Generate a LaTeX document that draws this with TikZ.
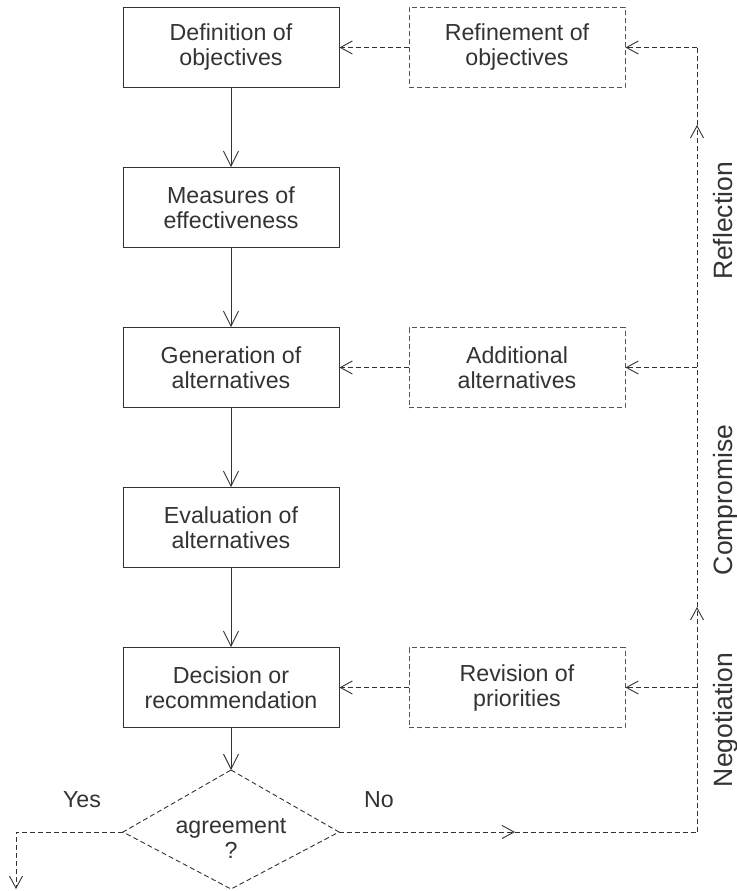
\documentclass[tikz,border=0pt]{standalone}
\usepackage{fontspec}
\setmainfont{Liberation Sans}
\usetikzlibrary{arrows.meta}
\definecolor{ink}{HTML}{333333}
\definecolor{dashink}{HTML}{555555}
\begin{document}
\begin{tikzpicture}[x=1pt,y=-1pt,
  txt/.style={font=\fontsize{23.2}{25}\selectfont, text=ink, align=center},
  mainbox/.style={txt, draw=ink, line width=0.9pt, minimum width=216pt, minimum height=80pt, inner sep=0pt},
  sidebox/.style={mainbox, draw=dashink, dash pattern=on 5pt off 3pt},
  solidarr/.style={draw=ink, line width=0.9pt, -{Straight Barb[length=15pt,width=15pt]}},
  dline/.style={draw=ink, line width=0.9pt, dash pattern=on 5pt off 3pt},
  darr/.style={dline, -{Straight Barb[length=12pt,width=13pt]}},
  sidelabel/.style={font=\fontsize{26.5}{28}\selectfont, text=ink, rotate=90, anchor=base, inner sep=0pt}
]
\useasboundingbox (0,0) rectangle (736,891);

\node[mainbox] (b1) at (231,47.5) {Definition of\\objectives};
\node[mainbox] (b2) at (231,207.5) {Measures of\\effectiveness};
\node[mainbox] (b3) at (231,367.5) {Generation of\\alternatives};
\node[mainbox] (b4) at (231,527.5) {Evaluation of\\alternatives};
\node[mainbox] (b5) at (231,687.5) {Decision or\\recommendation};

\node[sidebox] (s1) at (517,47.5) {Refinement of\\objectives};
\node[sidebox] (s3) at (517,367.5) {Additional\\alternatives};
\node[sidebox] (s5) at (517,687.5) {Revision of\\priorities};

\coordinate (dt) at (231,770);
\coordinate (dl) at (123,832);
\coordinate (dr) at (339,832);
\coordinate (db) at (231,889);
\draw[dline] (dt) -- (dr) -- (db) -- (dl) -- cycle;
\node[txt] (q) at (231,838) {agreement\\?};

\draw[solidarr] (b1) -- (b2);
\draw[solidarr] (b2) -- (b3);
\draw[solidarr] (b3) -- (b4);
\draw[solidarr] (b4) -- (b5);
\draw[solidarr] (b5) -- (dt);

\draw[darr] (s1) -- (b1);
\draw[darr] (s3) -- (b3);
\draw[darr] (s5) -- (b5);

\coordinate (nomid) at (515,832);
\coordinate (ncorner) at (697,832);
\coordinate (up1) at (697,607);
\coordinate (j5) at (697,687.5);
\coordinate (j3) at (697,367.5);
\coordinate (up2) at (697,125);
\coordinate (topc) at (697,47.5);

\draw[darr] (dr) -- (nomid);
\draw[dline] (nomid) -- (ncorner);
\draw[darr] (ncorner) -- (up1);
\draw[darr] (up1) -- (up2);
\draw[dline] (up2) -- (topc);
\draw[darr] (topc) -- (s1);
\draw[darr] (j3) -- (s3);
\draw[darr] (j5) -- (s5);

\coordinate (ycorner) at (16,832);
\coordinate (yend) at (16,889);
\draw[darr] (dl) -- (ycorner) -- (yend);

\node[txt] (yes) at (82,800) {Yes};
\node[txt] (no) at (379,800) {No};

\node[sidelabel] (refl) at (732,221) {Reflection};
\node[sidelabel] (comp) at (732,500) {Compromise};
\node[sidelabel] (nego) at (732,720) {Negotiation};
\end{tikzpicture}
\end{document}
